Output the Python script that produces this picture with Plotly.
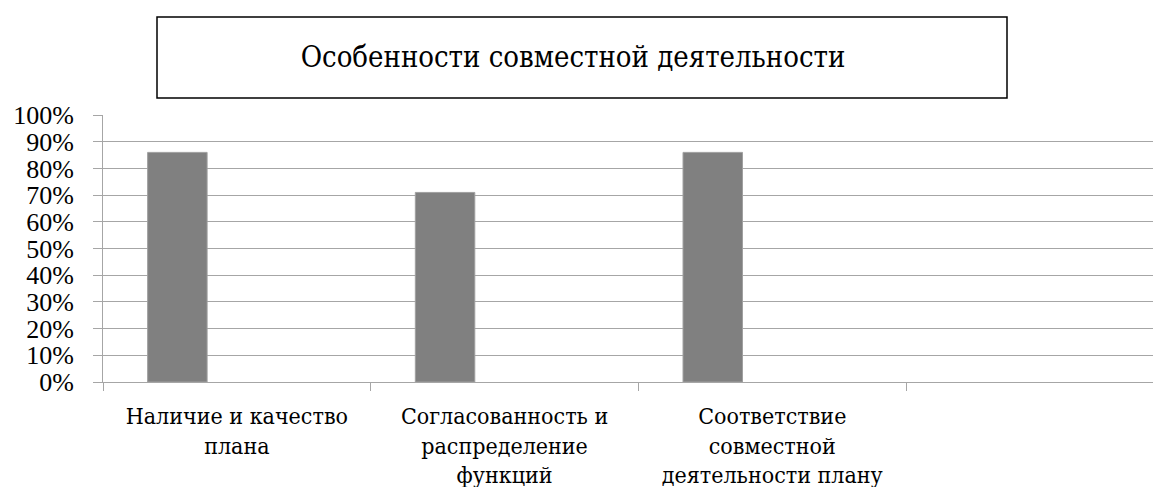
import plotly.graph_objects as go

categories = ["Наличие и качество<br>плана",
              "Согласованность и<br>распределение<br>функций",
              "Соответствие<br>совместной<br>деятельности плану",
              " "]
series1 = [0.86, 0.71, 0.86, None]
series2 = [None, None, None, None]
series3 = [None, None, None, None]
title_text = "Особенности совместной деятельности"

CYR = "DejaVu Serif Condensed, DejaVu Serif"
NUM = "Liberation Serif"
GRID = "#a6a6a6"

fig = go.Figure()
for name, vals in [("Ряд 1", series1), ("Ряд 2", series2), ("Ряд 3", series3)]:
    fig.add_trace(go.Bar(x=categories, y=vals, name=name,
                         marker=dict(color="#808080", line=dict(color="#a0a0a0", width=1))))

OFF = 8  # page body margin
W, H = 1161 - OFF, 487 - OFF
L, R, T, B = 103 - OFF, 0, 115 - OFF, 487 - 382.3
pw, ph = W - L - R, H - T - B

def px_x(p):
    return (p - OFF - L) / pw

def px_y(p):
    return (H - B - (p - OFF)) / ph

fig.update_layout(
    width=W, height=H,
    margin=dict(l=L, r=R, t=T, b=B, pad=0, autoexpand=False),
    paper_bgcolor="white", plot_bgcolor="white",
    barmode="group", bargap=1/3, bargroupgap=0,
    showlegend=False,
    font=dict(family=CYR, color="black"),
    title=dict(text=title_text, x=px_x(573), xref="paper",
               xanchor="center", y=1 - (57 - OFF) / H, yanchor="middle",
               font=dict(family=CYR, size=29, color="black"), automargin=False),
    shapes=[dict(type="rect", xref="paper", yref="paper",
                 x0=px_x(157), x1=px_x(1007), y0=px_y(98), y1=px_y(17),
                 line=dict(color="black", width=1.5), fillcolor="rgba(0,0,0,0)")],
)
fig.update_xaxes(type="category", range=[-0.5, -0.5 + pw / 267.7], automargin=False,
                 tickson="boundaries", ticks="outside", ticklen=8, tickcolor=GRID,
                 showline=True, linecolor=GRID, linewidth=1, showgrid=False,
                 ticklabelstandoff=13,
                 tickfont=dict(family=CYR, size=23, color="black"), tickangle=0)
fig.update_yaxes(range=[0, 1], dtick=0.1, tickformat=".0%", automargin=False,
                 ticks="outside", ticklen=9, tickcolor=GRID,
                 showline=True, linecolor=GRID, linewidth=1,
                 showgrid=True, gridcolor=GRID, gridwidth=1, zeroline=False,
                 ticklabelstandoff=14,
                 tickfont=dict(family=NUM, size=26, color="black"))

fig.write_html("out.html")
